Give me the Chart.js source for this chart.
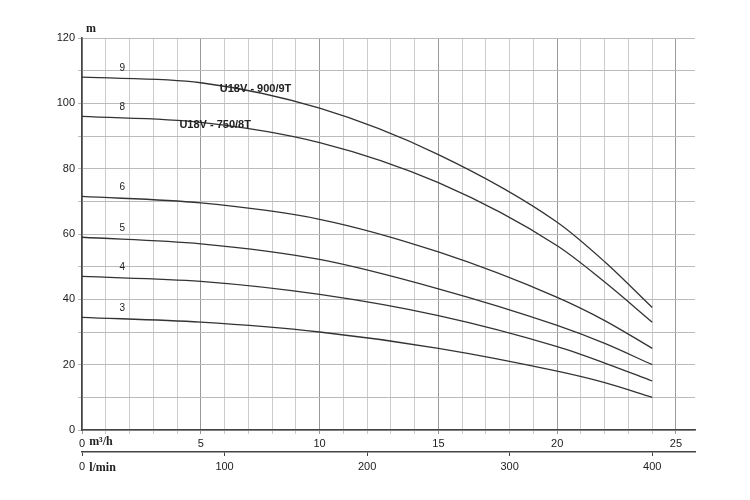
<!DOCTYPE html>
<html><head><script src="https://cdn.jsdelivr.net/npm/chart.js@4"></script>
<style>body{margin:0;background:#fff}</style></head><body>
<div style="width:750px;height:500px"><canvas id="c"></canvas></div>
<script>
const flow = [0, 5, 10, 15, 20, 22, 24];
const curve9 = [108, 106.3, 98.5, 84.3, 63.6, 51.5, 37.5];
const curve8 = [96, 94.2, 88, 75.7, 56.4, 45.3, 33];
const curve6 = [71.5, 69.5, 64.5, 54.5, 40.6, 33.5, 25];
const curve5 = [59, 57, 52.2, 43.2, 32, 26.5, 20];
const curve4 = [47, 45.5, 41.5, 35, 25.5, 20.5, 15];
const curve3 = [34.5, 33, 30, 25, 18, 14.5, 10];
const stageLabels = ['9','8','6','5','4','3'];
const all = [curve9, curve8, curve6, curve5, curve4, curve3];
const XMAX = 25.8;
const ds = all.map(c => ({data: flow.map((x,i)=>({x, y:c[i]})), borderColor:'#333', borderWidth:1.3, pointRadius:0, cubicInterpolationMode:'monotone', fill:false}));
const labelsPlugin = {id:'lbl', afterDatasetsDraw(ch){
  const {ctx, scales:{x,y}} = ch;
  ctx.save(); ctx.fillStyle='#222';
  ctx.font='10px "Liberation Sans", Arial'; ctx.textAlign='center';
  all.forEach((c,i)=>{ ctx.fillText(stageLabels[i], x.getPixelForValue(1.7), y.getPixelForValue(c[0])-6); });
  ctx.font='bold 11px "Liberation Sans", Arial'; ctx.textAlign='left';
  ctx.fillText('U18V - 900/9T', x.getPixelForValue(5.8), y.getPixelForValue(103.5));
  ctx.fillText('U18V - 750/8T', x.getPixelForValue(4.1), y.getPixelForValue(92.5));
  ctx.font='bold 12px "Liberation Serif", serif';
  ctx.fillText('m', x.left+4, y.top-6);
  ctx.fillText('m\u00B3/h', x.getPixelForValue(0.3), 445);
  ctx.fillText('l/min', x.getPixelForValue(0.3), 471);
  ctx.restore();
}};
new Chart(document.getElementById('c'), {
  type:'line', data:{datasets:ds}, plugins:[labelsPlugin],
  options:{responsive:true, maintainAspectRatio:false, animation:false,
    layout:{padding:{top:38,right:55,bottom:18,left:0}},
    plugins:{legend:{display:false}, tooltip:{enabled:false}},
    scales:{
      x:{type:'linear', min:0, max:XMAX, afterBuildTicks(s){s.ticks=[];for(let v=0;v<=25;v++)s.ticks.push({value:v});},
        afterFit(s){s.height=22;},
        ticks:{autoSkip:false, maxRotation:0, color:'#222', font:{size:11,family:'"Liberation Sans", Arial'}, callback:v=>v%5===0?v:''},
        grid:{color:c=>c.tick&&c.tick.value%5===0?'#999':'#ccc', tickLength:4},
        border:{color:'#444', width:1.5}},
      x2:{type:'linear', position:'bottom', min:0, max:XMAX*1000/60,
        afterBuildTicks(s){s.ticks=[0,100,200,300,400].map(v=>({value:v}));},
        afterFit(s){s.height=30;},
        ticks:{color:'#222', font:{size:11,family:'"Liberation Sans", Arial'}, padding:4},
        grid:{drawOnChartArea:false, tickLength:4, color:'#444'},
        border:{color:'#444', width:1.5}},
      y:{min:0, max:120, afterBuildTicks(s){s.ticks=[];for(let v=0;v<=120;v+=10)s.ticks.push({value:v});},
        afterFit(s){s.width=82;},
        ticks:{autoSkip:false, color:'#222', font:{size:11,family:'"Liberation Sans", Arial'}, callback:v=>v%20===0?v:''},
        grid:{color:'#bbb', tickLength:4},
        border:{color:'#444', width:1.5}}
    }}
});
</script></body></html>
